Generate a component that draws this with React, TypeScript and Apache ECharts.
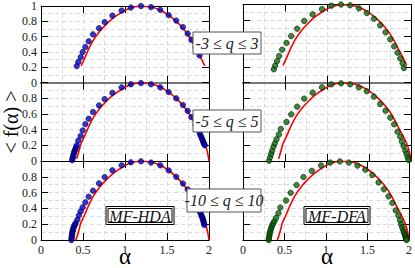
import React, { useEffect, useRef } from "react";
import * as echarts from "echarts";

// ---- data ----
// MF-HDA (blue), three q ranges
const hdaAlphaQ3 = [0.425, 0.444, 0.472, 0.496, 0.528, 0.567, 0.619, 0.69, 0.758, 0.85, 0.96, 1.07, 1.19, 1.31, 1.42, 1.52, 1.61, 1.69, 1.746, 1.79, 1.84, 1.887];
const hdaFQ3 = [0.217, 0.27, 0.333, 0.4, 0.465, 0.54, 0.63, 0.71, 0.79, 0.875, 0.94, 0.98, 1.0, 0.985, 0.95, 0.88, 0.81, 0.725, 0.64, 0.56, 0.46, 0.355];

const hdaAlphaQ5 = [0.371, 0.376, 0.382, 0.388, 0.394, 0.401, 0.409, 0.417, 0.425, 0.444, 0.472, 0.496, 0.528, 0.567, 0.619, 0.69, 0.758, 0.85, 0.96, 1.07, 1.19, 1.31, 1.42, 1.52, 1.61, 1.69, 1.746, 1.79, 1.84, 1.887, 1.9, 1.91, 1.92, 1.93, 1.937, 1.944, 1.95];
const hdaFQ5 = [0.01, 0.035, 0.06, 0.085, 0.11, 0.13, 0.15, 0.175, 0.2, 0.26, 0.32, 0.39, 0.47, 0.54, 0.626, 0.71, 0.79, 0.87, 0.94, 0.98, 0.995, 0.98, 0.94, 0.88, 0.8, 0.715, 0.64, 0.56, 0.46, 0.36, 0.33, 0.3, 0.275, 0.25, 0.23, 0.215, 0.2];

const hdaAlphaQ10 = [0.362, 0.364, 0.366, 0.368, 0.371, 0.374, 0.378, 0.383, 0.389, 0.396, 0.404, 0.413, 0.433, 0.452, 0.472, 0.496, 0.528, 0.567, 0.619, 0.69, 0.758, 0.85, 0.96, 1.07, 1.19, 1.31, 1.42, 1.52, 1.61, 1.69, 1.746, 1.79, 1.84, 1.885, 1.9, 1.91, 1.918, 1.925, 1.931, 1.936, 1.94, 1.944];
const hdaFQ10 = [0.0, 0.02, 0.04, 0.06, 0.08, 0.1, 0.12, 0.14, 0.16, 0.18, 0.195, 0.215, 0.257, 0.312, 0.363, 0.414, 0.477, 0.548, 0.624, 0.717, 0.797, 0.882, 0.945, 0.983, 0.996, 0.98, 0.945, 0.88, 0.8, 0.715, 0.64, 0.56, 0.46, 0.37, 0.34, 0.31, 0.29, 0.27, 0.25, 0.23, 0.21, 0.19];

// MF-DFA (green), three q ranges
const dfaAlphaQ3 = [0.367, 0.383, 0.406, 0.43, 0.466, 0.518, 0.574, 0.645, 0.729, 0.829, 0.94, 1.052, 1.167, 1.275, 1.379, 1.474, 1.558, 1.633, 1.697, 1.753, 1.8, 1.84, 1.872, 1.9, 1.916];
const dfaFQ3 = [0.171, 0.218, 0.277, 0.341, 0.422, 0.508, 0.597, 0.69, 0.789, 0.874, 0.942, 0.985, 1.0, 0.99, 0.951, 0.891, 0.818, 0.734, 0.644, 0.555, 0.465, 0.384, 0.312, 0.248, 0.188];

const dfaAlphaQ5 = [0.311, 0.323, 0.335, 0.347, 0.363, 0.379, 0.399, 0.427, 0.45, 0.518, 0.574, 0.645, 0.729, 0.829, 0.94, 1.052, 1.167, 1.275, 1.379, 1.474, 1.558, 1.633, 1.697, 1.753, 1.8, 1.84, 1.872, 1.892, 1.912, 1.932, 1.948, 1.96, 1.971];
const dfaFQ5 = [0.004, 0.047, 0.089, 0.132, 0.183, 0.226, 0.277, 0.34, 0.409, 0.498, 0.596, 0.694, 0.796, 0.873, 0.941, 0.979, 0.992, 0.979, 0.941, 0.89, 0.822, 0.728, 0.643, 0.553, 0.469, 0.374, 0.31, 0.247, 0.19, 0.132, 0.089, 0.047, 0.013];

const dfaAlphaQ10 = [0.309, 0.312, 0.316, 0.32, 0.325, 0.331, 0.338, 0.346, 0.355, 0.366, 0.379, 0.399, 0.427, 0.45, 0.518, 0.574, 0.645, 0.729, 0.829, 0.94, 1.052, 1.167, 1.275, 1.379, 1.474, 1.558, 1.633, 1.697, 1.753, 1.8, 1.84, 1.872, 1.892, 1.905, 1.918, 1.93, 1.94, 1.949, 1.956, 1.962, 1.967, 1.971];
const dfaFQ10 = [0.0, 0.02, 0.045, 0.07, 0.095, 0.12, 0.145, 0.17, 0.195, 0.215, 0.24, 0.28, 0.34, 0.41, 0.5, 0.598, 0.696, 0.797, 0.875, 0.943, 0.98, 0.994, 0.98, 0.943, 0.89, 0.822, 0.728, 0.643, 0.553, 0.469, 0.374, 0.31, 0.25, 0.2, 0.16, 0.125, 0.095, 0.07, 0.05, 0.03, 0.015, 0.0];

// theoretical spectrum (red)
const theoryAlpha = [0.41, 0.425, 0.45, 0.476, 0.52, 0.563, 0.623, 0.702, 0.782, 0.861, 0.96, 1.056, 1.175, 1.3, 1.42, 1.52, 1.61, 1.69, 1.75, 1.8, 1.85, 1.9, 1.95, 1.98, 2.0];
const theoryF = [0.0, 0.03, 0.12, 0.22, 0.32, 0.427, 0.555, 0.674, 0.767, 0.844, 0.917, 0.972, 0.997, 0.99, 0.945, 0.88, 0.8, 0.71, 0.625, 0.535, 0.43, 0.33, 0.22, 0.12, 0.0];
// alpha extent of the theoretical curve for each q range
const theoryAlphaMin = [0.47, 0.42, 0.4];
const theoryAlphaMax = [1.96, 2.0, 2.0];

const qLabels = ["-3 ≤ q ≤ 3", "-5 ≤ q ≤ 5", "-10 ≤ q ≤ 10"];
const methodLabels = ["MF-HDA", "MF-DFA"];
const xTickInterval = 0.5;
const yTickInterval = 0.2;

const zip = (a: number[], b: number[]) => a.map((v, i) => [v, b[i]]);

const panelData = [
  [zip(hdaAlphaQ3, hdaFQ3), zip(dfaAlphaQ3, dfaFQ3)],
  [zip(hdaAlphaQ5, hdaFQ5), zip(dfaAlphaQ5, dfaFQ5)],
  [zip(hdaAlphaQ10, hdaFQ10), zip(dfaAlphaQ10, dfaFQ10)],
];

export default function App() {
  const ref = useRef<HTMLDivElement>(null);
  useEffect(() => {
    if (!ref.current) return;
    const chart = echarts.init(ref.current, undefined, { renderer: "svg" });
    const serif = "Liberation Serif";
    const gridTop = [4.5, 82.7, 161];
    const gridH = [78.2, 78.3, 79];
    const gridLeft = [41, 243];
    const gridW = 168;
    const dashed = { color: "#dcdcdc", type: [4, 3] as any, width: 1 };
    const grids: any[] = [];
    const xAxes: any[] = [];
    const yAxes: any[] = [];
    const series: any[] = [];
    const colors = ["#0000e0", "#087008"];
    for (let r = 0; r < 3; r++) {
      for (let c = 0; c < 2; c++) {
        const g = r * 2 + c;
        grids.push({ left: gridLeft[c], top: gridTop[r], width: gridW, height: gridH[r] });
        const bottomGray = r === 0;
        const topGray = r === 1;
        xAxes.push({
          gridIndex: g, type: "value", min: 0, max: 2, interval: xTickInterval, position: "bottom",
          axisLine: { show: true, onZero: false, lineStyle: { color: bottomGray ? "#777" : "#000", width: bottomGray ? 2 : 1 } },
          axisTick: { show: true, inside: true, length: 7, lineStyle: { color: "#000" } },
          axisLabel: { show: r === 2, fontFamily: serif, fontSize: 12, color: "#222", margin: 4 },
          splitLine: { show: true, lineStyle: dashed },
          minorTick: { show: false, splitNumber: 2 },
          minorSplitLine: { show: true, lineStyle: dashed },
        });
        xAxes.push({
          gridIndex: g, type: "value", min: 0, max: 2, interval: xTickInterval, position: "top",
          axisLine: { show: true, onZero: false, lineStyle: { color: topGray ? "#777" : "#000", width: topGray ? 2 : 1 } },
          axisTick: { show: true, inside: true, length: 7, lineStyle: { color: "#000" } },
          axisLabel: { show: false },
          splitLine: { show: false },
        });
        yAxes.push({
          gridIndex: g, type: "value", min: 0, max: 1, interval: yTickInterval, position: "left",
          axisLine: { show: true, onZero: false, lineStyle: { color: "#000" } },
          axisTick: { show: true, inside: true, length: 7, lineStyle: { color: "#000" } },
          axisLabel: { show: c === 0, showMaxLabel: r === 0, fontFamily: serif, fontSize: 12, color: "#222", margin: 4 },
          splitLine: { show: true, lineStyle: dashed },
          minorTick: { show: false, splitNumber: 2 },
          minorSplitLine: { show: true, lineStyle: dashed },
        });
        yAxes.push({
          gridIndex: g, type: "value", min: 0, max: 1, interval: yTickInterval, position: "right",
          axisLine: { show: true, onZero: false, lineStyle: { color: "#000" } },
          axisTick: { show: true, inside: true, length: 7, lineStyle: { color: "#000" } },
          axisLabel: { show: false },
          splitLine: { show: false },
        });
        const theory = zip(theoryAlpha, theoryF).filter(
          (p) => p[0] >= theoryAlphaMin[r] && p[0] <= theoryAlphaMax[r]
        );
        series.push({
          type: "line", xAxisIndex: 2 * g, yAxisIndex: 2 * g, data: theory,
          showSymbol: false, symbol: "none", smooth: 0.35,
          lineStyle: { color: "#ff0000", width: 1.6 }, z: 2,
        });
        series.push({
          type: "scatter", xAxisIndex: 2 * g, yAxisIndex: 2 * g, data: panelData[r][c],
          symbolSize: 5.5, clip: false,
          itemStyle: { color: colors[c], borderColor: "#000", borderWidth: 0.7 }, z: 3,
        });
      }
    }

    const qBoxes = [
      { x: 193, y: 32, w: 68, h: 22 },
      { x: 193, y: 110, w: 68, h: 22 },
      { x: 187, y: 189, w: 74, h: 23 },
    ];
    const graphic: any[] = [];
    qBoxes.forEach((b, i) => {
      graphic.push({
        type: "rect", z: 100, shape: { x: b.x, y: b.y, width: b.w, height: b.h },
        style: { fill: "#fff", stroke: "#555", lineWidth: 1 },
      });
      graphic.push({
        type: "text", z: 101, x: b.x + b.w / 2, y: b.y + b.h / 2,
        style: { text: qLabels[i], fontFamily: serif, fontStyle: "italic", fontSize: 16, fill: "#222", align: "center", verticalAlign: "middle" },
      });
    });
    const mBoxes = [
      { x: 106, y: 206.5, w: 68, h: 18 },
      { x: 304, y: 206.5, w: 66, h: 18 },
    ];
    mBoxes.forEach((b, i) => {
      graphic.push({
        type: "rect", z: 100, shape: { x: b.x, y: b.y, width: b.w, height: b.h },
        style: { fill: "#fff", stroke: "#000", lineWidth: 1 },
      });
      graphic.push({
        type: "rect", z: 100, shape: { x: b.x + 2, y: b.y + 2, width: b.w - 4, height: b.h - 4 },
        style: { fill: "none", stroke: "#000", lineWidth: 1 },
      });
      graphic.push({
        type: "text", z: 101, x: b.x + b.w / 2, y: b.y + b.h / 2 + 0.5,
        style: { text: methodLabels[i], fontFamily: serif, fontStyle: "italic", fontSize: 16, lineHeight: 14, fill: "#111", align: "center", verticalAlign: "middle" },
      });
    });
    graphic.push({
      type: "text", z: 101, x: 11, y: 122, rotation: Math.PI / 2,
      style: { text: "< f(α) >", fontFamily: serif, fontSize: 20, lineHeight: 18, fill: "#000", align: "center", verticalAlign: "middle" },
    });
    [125, 327].forEach((x) => {
      graphic.push({
        type: "text", z: 101, x, y: 268,
        style: { text: "α", fontFamily: serif, fontSize: 23, fill: "#000", align: "center", verticalAlign: "bottom" },
      });
    });

    chart.setOption({
      animation: false,
      backgroundColor: "#fff",
      grid: grids,
      xAxis: xAxes,
      yAxis: yAxes,
      series,
      graphic,
    });
    return () => chart.dispose();
  }, []);
  return <div ref={ref} style={{ position: "fixed", left: 0, top: 0, width: 415, height: 268 }} />;
}
